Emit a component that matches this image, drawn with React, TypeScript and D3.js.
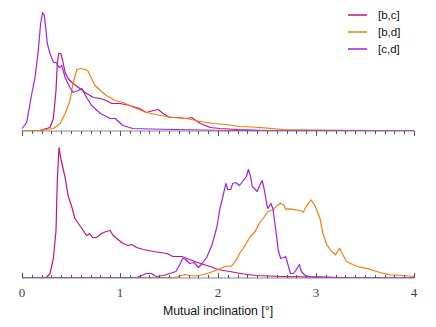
import React, { useEffect, useRef } from 'react';
import * as d3 from 'd3';

// series names and colours
const seriesNames = ['[b,c]', '[b,d]', '[c,d]'];
const seriesColors = ['#c8107f', '#ff7a0a', '#a020f0'];

// x tick labels (integer degrees)
const majorTicks = [0, 1, 2, 3, 4];

// top panel, [inclination, density]
const topBC: [number, number][] = [
  [0, 0], [0.18, 0], [0.286, 3], [0.32, 12], [0.347, 40], [0.36, 67], [0.374, 77], [0.395, 77],
  [0.415, 70], [0.44, 58], [0.47, 52], [0.52, 47], [0.59, 42], [0.66, 37], [0.73, 33],
  [0.8, 32], [0.86, 30], [0.915, 27], [1.0, 27], [1.1, 25], [1.2, 22], [1.27, 18],
  [1.34, 20], [1.39, 21], [1.44, 17], [1.51, 13], [1.58, 13], [1.68, 12], [1.73, 13],
  [1.82, 7], [1.92, 3], [2.02, 2], [2.2, 1], [2.5, 0], [4, 0],
];
const topBD: [number, number][] = [
  [0, 0], [0.18, 0], [0.32, 2], [0.39, 7], [0.44, 17], [0.49, 30], [0.52, 47], [0.56, 61],
  [0.61, 62], [0.67, 60], [0.71, 52], [0.745, 45], [0.8, 40], [0.86, 35], [0.95, 30],
  [1.03, 28], [1.14, 23], [1.27, 18], [1.41, 15], [1.54, 13], [1.68, 12], [1.82, 9],
  [1.95, 7], [2.08, 6], [2.22, 4], [2.35, 3.5], [2.5, 2.3], [2.66, 1], [3.0, 0.3],
  [3.65, 0], [4, 0],
];
const topCD: [number, number][] = [
  [0, 2], [0.048, 8], [0.1, 37], [0.133, 53], [0.166, 80], [0.19, 107], [0.211, 118],
  [0.228, 115], [0.245, 100], [0.258, 87], [0.286, 77], [0.32, 68], [0.347, 68],
  [0.38, 63], [0.405, 65], [0.44, 53], [0.49, 43], [0.52, 38], [0.575, 40], [0.61, 42],
  [0.66, 33], [0.71, 25], [0.8, 17], [0.9, 12], [0.95, 12], [1.03, 5], [1.13, 2],
  [1.31, 1.5], [1.82, 0.5], [2.1, 0], [4, 0],
];

// bottom panel, [inclination, density]
const botBC: [number, number][] = [
  [0, 0], [0.25, 0], [0.286, 4], [0.32, 19], [0.347, 47], [0.36, 97], [0.378, 130],
  [0.4, 117], [0.44, 100], [0.47, 82], [0.51, 70], [0.54, 59], [0.59, 52], [0.625, 47],
  [0.66, 42], [0.69, 44], [0.72, 40], [0.76, 40], [0.81, 44], [0.86, 46], [0.9, 47],
  [0.93, 42], [0.98, 38], [1.03, 34], [1.085, 32], [1.12, 33], [1.17, 30], [1.24, 28],
  [1.34, 26], [1.41, 25], [1.48, 24], [1.54, 21], [1.63, 21], [1.71, 18], [1.82, 14],
  [1.92, 11], [2.0, 8], [2.12, 6], [2.26, 3.5], [2.39, 2], [2.66, 1], [3.0, 0.3],
  [3.3, 0], [4, 0],
];
const botBD: [number, number][] = [
  [0, 0], [1.56, 0], [1.61, 1.5], [1.66, 3], [1.71, 2], [1.78, 1.5], [1.85, 3], [1.92, 5],
  [1.99, 7.5], [2.07, 11], [2.14, 11.7], [2.19, 17.7], [2.22, 24], [2.28, 32.7],
  [2.33, 41], [2.38, 46], [2.42, 54], [2.46, 59], [2.51, 66], [2.56, 67.7], [2.6, 71.7],
  [2.64, 74.3], [2.67, 72.7], [2.69, 68.3], [2.73, 68.7], [2.79, 67.7], [2.84, 67],
  [2.87, 65.3], [2.91, 72.7], [2.95, 77.7], [2.99, 71.7], [3.04, 59.3], [3.07, 44.3],
  [3.11, 32.7], [3.16, 26], [3.2, 22.7], [3.24, 29.3], [3.27, 23.7], [3.31, 16],
  [3.38, 12.7], [3.45, 10.3], [3.55, 8.3], [3.65, 5], [3.76, 2.7], [3.89, 2], [4.0, 1],
];
const botCD: [number, number][] = [
  [0, 0], [1.17, 0], [1.22, 2], [1.27, 4], [1.32, 4], [1.37, 1], [1.44, 2], [1.51, 4],
  [1.57, 6], [1.61, 13], [1.64, 19], [1.67, 18], [1.71, 14], [1.755, 15], [1.8, 10],
  [1.83, 13], [1.885, 20], [1.94, 33], [1.99, 51], [2.02, 69], [2.05, 81], [2.08, 94],
  [2.1, 88], [2.13, 88], [2.15, 94], [2.18, 95], [2.22, 92], [2.25, 96], [2.29, 101],
  [2.31, 108], [2.33, 102], [2.35, 91], [2.38, 88], [2.4, 86], [2.42, 91], [2.45, 97],
  [2.47, 89], [2.5, 72], [2.51, 69], [2.54, 74], [2.56, 69], [2.59, 47], [2.615, 27],
  [2.64, 19], [2.67, 20], [2.69, 21], [2.72, 11], [2.74, 4], [2.77, 4], [2.8, 8],
  [2.83, 13], [2.85, 6], [2.89, 2], [2.94, 0.7], [3.04, 0.3], [3.2, 0], [4, 0],
];

const topSeries = [topBC, topBD, topCD];
const botSeries = [botBC, botBD, botCD];

function App() {
  const ref = useRef<SVGSVGElement>(null);

  useEffect(() => {
    const svg = d3.select(ref.current);
    svg.selectAll('*').remove();

    const x = d3.scaleLinear().domain([0, 4]).range([22, 414]);

    const panels = [
      { data: topSeries, y: d3.scaleLinear().domain([0, 120]).range([130.5, 10.5]), base: 131, dir: 1 },
      { data: botSeries, y: d3.scaleLinear().domain([0, 135]).range([277.5, 142.5]), base: 278, dir: -1 },
    ];

    panels.forEach((p) => {
      const line = d3.line<[number, number]>()
        .x((d) => x(d[0]))
        .y((d) => p.y(d[1]));

      p.data.forEach((s, i) => {
        svg.append('path')
          .datum(s)
          .attr('d', line)
          .attr('fill', 'none')
          .attr('stroke', seriesColors[i])
          .attr('stroke-width', 1.2)
          .attr('stroke-linejoin', 'round');
      });

      // axis line
      svg.append('line')
        .attr('x1', x(0)).attr('x2', x(4))
        .attr('y1', p.base).attr('y2', p.base)
        .attr('stroke', '#8a8a8a')
        .attr('stroke-width', 1);

      // ticks every 0.1, longer on integers
      const ticks = d3.range(0, 41).map((k) => k / 10);
      svg.append('g')
        .selectAll('line')
        .data(ticks)
        .enter()
        .append('line')
        .attr('x1', (d) => Math.round(x(d)) + 0.5)
        .attr('x2', (d) => Math.round(x(d)) + 0.5)
        .attr('y1', p.base)
        .attr('y2', (d, k) => p.base + p.dir * (k % 10 === 0 ? 5 : 3))
        .attr('stroke', '#555')
        .attr('stroke-width', 1);
    });

    // tick labels
    svg.append('g')
      .selectAll('text')
      .data(majorTicks)
      .enter()
      .append('text')
      .attr('x', (d) => x(d))
      .attr('y', 297)
      .attr('text-anchor', 'middle')
      .attr('font-family', "'Liberation Serif', 'DejaVu Serif', serif")
      .attr('font-size', 13)
      .attr('fill', '#444')
      .text((d) => d);

    // axis title
    svg.append('text')
      .attr('x', 218)
      .attr('y', 315)
      .attr('text-anchor', 'middle')
      .attr('font-family', "'Liberation Sans', Arial, sans-serif")
      .attr('font-size', 12.3)
      .attr('fill', '#111')
      .text('Mutual inclination [°]');

    // legend
    const legend = svg.append('g');
    seriesNames.forEach((name, i) => {
      const ly = 15 + i * 17;
      legend.append('line')
        .attr('x1', 348).attr('x2', 367)
        .attr('y1', ly).attr('y2', ly)
        .attr('stroke', seriesColors[i])
        .attr('stroke-width', 1.5);
      legend.append('text')
        .attr('x', 378)
        .attr('y', ly + 4)
        .attr('font-family', "'Liberation Sans', Arial, sans-serif")
        .attr('font-size', 11.5)
        .attr('fill', '#111')
        .text(name);
    });
  }, []);

  return (
    <svg
      ref={ref}
      width={436}
      height={327}
      style={{ position: 'absolute', left: 0, top: 0, background: 'white' }}
    />
  );
}

export default App;
